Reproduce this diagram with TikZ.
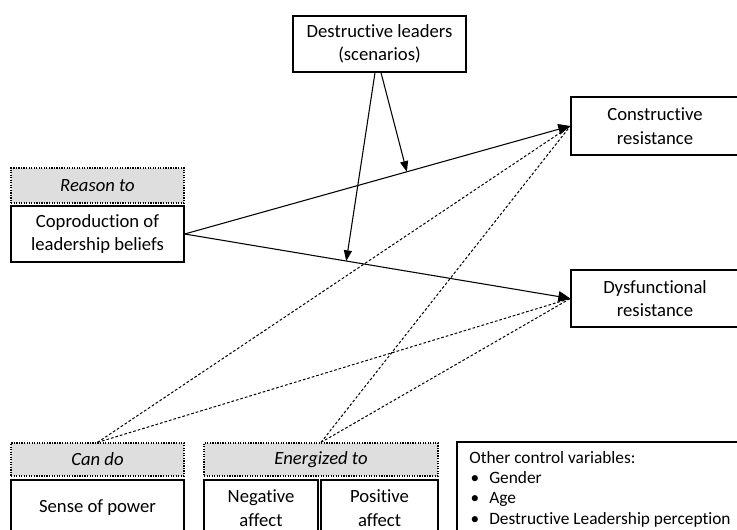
\documentclass[tikz,border=0pt]{standalone}
\usepackage{fontspec}
\setmainfont{Carlito}[Ligatures=CommonOff]
\usetikzlibrary{arrows.meta,calc}
\definecolor{tagfill}{RGB}{222,222,222}
\begin{document}
\begin{tikzpicture}[x=0.75pt,y=-0.75pt,
  box/.style={draw=black, line width=1pt, fill=white, inner sep=0pt, align=center,
    font=\fontsize{14}{17.5}\selectfont},
  tagbox/.style={draw=black, densely dotted, line width=0.9pt, fill=tagfill, inner sep=0pt,
    font=\fontsize{14}{17.5}\selectfont\itshape},
  link/.style={line width=0.8pt, -{Triangle[length=9pt,width=8pt]}},
  modlink/.style={line width=0.8pt, -{Triangle[length=8pt,width=6pt]}},
  ctrllink/.style={line width=0.75pt, dash pattern=on 2pt off 1.5pt},
]
\useasboundingbox (0,0) rectangle (737,530);
\clip (0,0) rectangle (737,530);

% boxes
\node[box, minimum width=129.75pt, minimum height=42pt] (dl) at (379.5,44) {Destructive leaders\\(scenarios)};
\node[box, minimum width=126pt, minimum height=43.5pt] (cons) at (655,126) {Constructive\\resistance};
\node[box, minimum width=126pt, minimum height=42.75pt] (dys) at (655,298.5) {Dysfunctional\\resistance};

\node[tagbox, minimum width=129.75pt, minimum height=26.25pt] (reason) at (97.5,185.5) {Reason to};
\node[box, minimum width=129.75pt, minimum height=42pt] (copro) at (97.5,234) {Coproduction of\\leadership beliefs};

\node[tagbox, minimum width=129.75pt, minimum height=24.75pt] (cando) at (97.5,459.5) {Can do};
\node[box, minimum width=129.75pt, minimum height=42pt] (sense) at (97.5,508) {Sense of power};

\node[tagbox, minimum width=175.5pt, minimum height=24.75pt] (energ) at (321,459.5) {Energized to};
\node[box, minimum width=85.5pt, minimum height=42pt] (neg) at (261,508) {Negative\\affect};
\node[box, minimum width=87.75pt, minimum height=42pt] (pos) at (379.5,508) {Positive\\affect};

\node[draw=black, line width=1pt, fill=white, inner sep=0pt, minimum width=216pt, minimum height=73.5pt] (ctrl) at (601,491) {};
\node[anchor=north west, inner sep=0pt, align=left, font=\fontsize{13}{15.2}\selectfont] (ctrltext) at (469,451)
  {Other control variables:\\
   \makebox[15pt][l]{\hspace*{1pt}\textbullet}Gender\\
   \makebox[15pt][l]{\hspace*{1pt}\textbullet}Age\\
   \makebox[15pt][l]{\hspace*{1pt}\textbullet}Destructive Leadership perception};

% dashed control paths
\draw[ctrllink] (cando.north) -- (cons.west);
\draw[ctrllink] (cando.north) -- (dys.west);
\draw[ctrllink] (energ.north) -- (cons.west);
\draw[ctrllink] (energ.north) -- (dys.west);

% main paths
\draw[link] (copro.east) -- (cons.west);
\draw[link] (copro.east) -- (dys.west);

% moderation
\coordinate (dlA) at ($(dl.south)+(-4.5,0)$);
\coordinate (dlB) at ($(dl.south)+(1.5,0)$);
\coordinate (tipDys) at ($(copro.east)!0.419!(dys.west)$);
\coordinate (tipCons) at ($(copro.east)!0.576!(cons.west)$);
\draw[modlink] (dlA) -- (tipDys);
\draw[modlink] (dlB) -- (tipCons);
\end{tikzpicture}
\end{document}
